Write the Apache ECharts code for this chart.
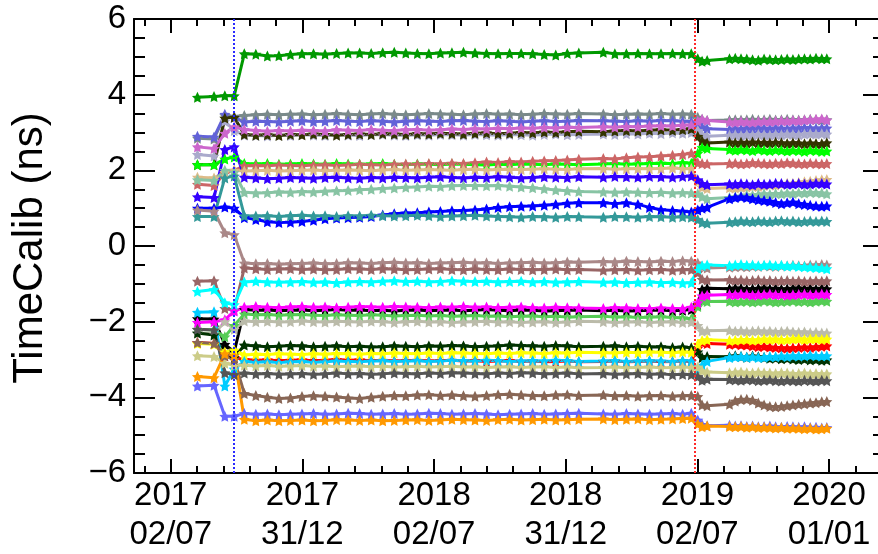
<!DOCTYPE html>
<html><head><meta charset="utf-8">
<script src="https://cdn.jsdelivr.net/npm/echarts@6/dist/echarts.min.js"></script>
<style>html,body{margin:0;padding:0;background:#fff}#c{width:878px;height:554px}</style>
</head><body><div id="c"></div>
<script>
// x values: days since 2017-07-02
const daysA = [37, 60, 75, 88];
const daysB = [102,118,134,150,166,182,198,214,230,246,262,278,294,310,326,342,358,374,390,406,422,438,454,470,486,502,518,534,550,566,600,616,632,648,664,680,696,710,722];
const daysC = [731,737,744,775,783,791,799,807,815,823,831,839,847,855,863,871,879,887,895,903,910];

const majorTickDays = [0, 182.6, 365.25, 547.9, 730.5, 913.1];
const majorTickLabels = ['2017\n02/07','2017\n31/12','2018\n02/07','2018\n31/12','2019\n02/07','2020\n01/01'];
const calibLineDays = [87.5, 727.5];
const calibLineColors = ['#2a2aff', '#ff2a2a'];
const yTitle = 'TimeCalib (ns)';

const s01 = [3.93,3.95,3.97,3.97,
 5.08,5.07,5.02,5.03,5.06, 5.08,5.08,5.07,5.09,5.10, 5.10,5.09,5.11,5.12,5.10, 5.09,5.08,5.10,5.11,5.12, 5.10,5.09,5.08,5.09,5.09, 5.08,5.06,5.05,5.09,5.10, 5.12,5.08,5.08,5.09,5.08, 5.08,5.09,5.08,5.08,
 4.95,4.88,4.90,4.95,4.96, 4.95,4.94,4.92,4.91,4.94, 4.93,4.92,4.93,4.94,4.93, 4.94,4.95,4.94,4.96,4.95, 4.95];
const s02 = [2.85,2.83,3.45,3.42,
 3.45,3.47,3.48,3.47,3.48, 3.49,3.47,3.48,3.50,3.48, 3.47,3.49,3.50,3.48,3.47, 3.48,3.50,3.49,3.48,3.47, 3.49,3.50,3.48,3.49,3.47, 3.48,3.50,3.49,3.48,3.50, 3.49,3.47,3.48,3.49,3.48, 3.50,3.48,3.49,3.48,
 3.40,3.35,3.32,3.33,3.34, 3.33,3.34,3.35,3.33,3.34, 3.35,3.33,3.34,3.35,3.34, 3.33,3.34,3.35,3.34,3.33, 3.34];
const s03 = [2.90,2.88,3.48,3.40,
 3.28,3.30,3.29,3.28,3.30, 3.31,3.29,3.30,3.32,3.30, 3.29,3.31,3.30,3.28,3.30, 3.31,3.30,3.29,3.31,3.32, 3.30,3.29,3.31,3.30,3.28, 3.30,3.31,3.29,3.30,3.32, 3.31,3.30,3.29,3.31,3.30, 3.32,3.31,3.30,3.29,
 3.25,3.15,3.10,3.08,3.10, 3.09,3.11,3.10,3.12,3.11, 3.10,3.12,3.11,3.10,3.12, 3.11,3.13,3.12,3.11,3.12, 3.12];
const s04 = [2.62,2.58,2.98,3.15,
 3.08,3.05,3.03,3.05,3.04, 3.06,3.05,3.04,3.07,3.06, 3.05,3.08,3.06,3.05,3.07, 3.08,3.06,3.07,3.09,3.08, 3.10,3.09,3.11,3.10,3.12, 3.11,3.13,3.12,3.14,3.13, 3.15,3.14,3.16,3.15,3.17, 3.18,3.17,3.19,3.20,
 3.30,3.35,3.32,3.28,3.27, 3.29,3.28,3.27,3.29,3.30, 3.29,3.30,3.31,3.30,3.32, 3.31,3.33,3.34,3.35,3.36, 3.33];
const s05 = [2.15,2.15,3.38,3.40,
 2.95,2.93,2.94,2.92,2.95, 2.94,2.96,2.95,2.93,2.95, 2.96,2.95,2.97,2.96,2.95, 2.97,2.96,2.98,2.97,2.96, 2.98,2.99,2.97,2.98,3.00, 2.99,3.01,3.00,3.02,3.03, 3.02,3.04,3.05,3.04,3.06, 3.07,3.06,3.08,3.10,
 2.90,2.78,2.72,2.75,2.73, 2.74,2.72,2.75,2.73,2.74, 2.72,2.74,2.73,2.71,2.73, 2.72,2.70,2.72,2.71,2.70, 2.73];
const s06 = [2.42,2.38,3.30,3.05,
 2.93,2.92,2.91,2.93,2.92, 2.94,2.93,2.92,2.94,2.93, 2.92,2.94,2.95,2.93,2.92, 2.94,2.93,2.95,2.94,2.93, 2.95,2.94,2.93,2.95,2.94, 2.93,2.95,2.96,2.94,2.95, 2.96,2.95,2.97,2.96,2.98, 2.97,2.99,2.98,3.00,
 3.05,2.95,2.90,2.93,2.94, 2.92,2.94,2.93,2.95,2.94, 2.93,2.95,2.94,2.96,2.95, 2.94,2.96,2.97,2.96,2.97, 2.96];
const s07 = [2.15,2.15,2.30,2.35,
 2.18,2.17,2.18,2.16,2.17, 2.18,2.17,2.16,2.18,2.17, 2.16,2.17,2.18,2.16,2.15, 2.17,2.16,2.15,2.17,2.16, 2.15,2.14,2.16,2.15,2.17, 2.16,2.15,2.17,2.16,2.15, 2.17,2.18,2.16,2.17,2.18, 2.19,2.18,2.20,2.19,
 2.45,2.60,2.58,2.55,2.53, 2.55,2.54,2.52,2.55,2.53, 2.52,2.54,2.53,2.51,2.53, 2.52,2.50,2.53,2.52,2.50, 2.51];
const s08 = [1.63,1.60,1.92,2.00,
 2.12,2.13,2.12,2.14,2.13, 2.12,2.14,2.15,2.13,2.14, 2.16,2.15,2.14,2.16,2.17, 2.16,2.18,2.17,2.19,2.18, 2.20,2.22,2.21,2.23,2.22, 2.24,2.25,2.26,2.27,2.29, 2.31,2.30,2.33,2.35,2.36, 2.38,2.40,2.42,2.45,
 2.20,2.18,2.17,2.18,2.19, 2.17,2.18,2.20,2.19,2.18, 2.17,2.19,2.18,2.20,2.19, 2.18,2.17,2.19,2.18,2.17, 2.18];
const s09 = [1.82,1.80,1.95,2.00,
 1.98,1.99,2.00,1.98,1.99, 2.00,2.01,1.99,2.00,2.01, 2.00,1.99,2.01,2.02,2.00, 2.01,2.02,2.01,2.00,2.02, 2.03,2.01,2.02,2.03,2.02, 2.03,2.04,2.03,2.02,2.04, 2.05,2.03,2.04,2.05,2.04, 2.05,2.06,2.04,2.05,
 1.70,1.55,1.52,1.54,1.53, 1.55,1.56,1.58,1.57,1.60, 1.62,1.61,1.64,1.66,1.65, 1.68,1.70,1.71,1.73,1.75, 1.76];
const s10 = [1.30,1.28,2.55,2.62,
 1.82,1.80,1.78,1.79,1.81, 1.80,1.79,1.81,1.82,1.80, 1.79,1.81,1.80,1.82,1.81, 1.80,1.82,1.83,1.81,1.80, 1.82,1.81,1.83,1.82,1.80, 1.81,1.83,1.82,1.81,1.83, 1.82,1.84,1.83,1.82,1.84, 1.83,1.82,1.84,1.85,
 1.75,1.65,1.62,1.64,1.63, 1.65,1.64,1.62,1.65,1.63, 1.64,1.66,1.65,1.63,1.64, 1.65,1.63,1.64,1.66,1.65, 1.64];
const s11 = [1.75,1.73,2.00,1.95,
 1.42,1.40,1.41,1.43,1.42, 1.44,1.43,1.45,1.46,1.47, 1.49,1.50,1.52,1.53,1.55, 1.56,1.58,1.57,1.59,1.60, 1.60,1.59,1.60,1.58,1.56, 1.54,1.51,1.48,1.46,1.44, 1.43,1.42,1.43,1.42,1.41, 1.42,1.40,1.41,1.40,
 1.38,1.30,1.25,1.28,1.30, 1.32,1.35,1.34,1.36,1.38, 1.37,1.39,1.38,1.40,1.39, 1.41,1.40,1.42,1.41,1.40, 1.38];
const s12 = [1.00,1.00,1.03,1.00,
 0.75,0.70,0.64,0.62,0.63, 0.65,0.68,0.72,0.74,0.75, 0.76,0.78,0.82,0.85,0.87, 0.88,0.90,0.91,0.93,0.94, 0.95,0.98,1.02,1.04,1.05, 1.06,1.08,1.10,1.13,1.14, 1.14,1.12,1.14,1.10,1.02, 0.96,0.94,0.92,0.90,
 0.95,1.00,1.02,1.25,1.28, 1.30,1.28,1.25,1.22,1.20, 1.18,1.15,1.12,1.14,1.16, 1.12,1.10,1.08,1.06,1.05, 1.06];
const s13 = [0.78,0.78,1.80,1.85,
 0.80,0.79,0.80,0.78,0.80, 0.81,0.79,0.80,0.78,0.80, 0.79,0.81,0.80,0.79,0.80, 0.81,0.80,0.78,0.79,0.80, 0.81,0.79,0.78,0.77,0.76, 0.78,0.77,0.76,0.78,0.77, 0.76,0.78,0.77,0.76,0.78, 0.77,0.76,0.77,0.76,
 0.70,0.62,0.60,0.63,0.64, 0.66,0.65,0.64,0.66,0.65, 0.64,0.66,0.67,0.65,0.66, 0.64,0.65,0.66,0.65,0.66, 0.65];
const s14 = [0.95,0.92,0.35,0.30,
 -0.45,-0.47,-0.46,-0.48,-0.47, -0.46,-0.45,-0.47,-0.46,-0.44, -0.45,-0.46,-0.44,-0.43,-0.45, -0.44,-0.46,-0.45,-0.44,-0.43, -0.45,-0.44,-0.46,-0.45,-0.44, -0.43,-0.45,-0.44,-0.42,-0.43, -0.41,-0.42,-0.40,-0.41,-0.42, -0.40,-0.41,-0.39,-0.40,
 -0.45,-0.55,-0.58,-0.56,-0.55, -0.54,-0.55,-0.53,-0.54,-0.52, -0.53,-0.54,-0.52,-0.53,-0.51, -0.52,-0.53,-0.50,-0.51,-0.49, -0.50];
const s15 = [-0.93,-0.92,-1.65,-1.70,
 -0.58,-0.60,-0.62,-0.61,-0.60, -0.62,-0.61,-0.63,-0.62,-0.60, -0.61,-0.62,-0.60,-0.61,-0.63, -0.62,-0.61,-0.60,-0.62,-0.63, -0.61,-0.62,-0.63,-0.61,-0.62, -0.63,-0.62,-0.61,-0.63,-0.62, -0.64,-0.63,-0.62,-0.64,-0.63, -0.62,-0.64,-0.63,-0.62,
 -0.70,-0.88,-0.90,-0.89,-0.91, -0.90,-0.92,-0.91,-0.90,-0.92, -0.91,-0.93,-0.92,-0.91,-0.93, -0.92,-0.94,-0.93,-0.92,-0.93, -0.92];
const s16 = [-1.20,-1.15,-1.50,-1.55,
 -0.95,-0.93,-0.95,-0.96,-0.95, -0.94,-0.96,-0.95,-0.97,-0.95, -0.94,-0.95,-0.93,-0.92,-0.94, -0.93,-0.95,-0.94,-0.92,-0.93, -0.94,-0.93,-0.95,-0.94,-0.93, -0.95,-0.94,-0.96,-0.95,-0.94, -0.96,-0.95,-0.97,-0.96,-0.95, -0.97,-0.96,-0.98,-0.97,
 -0.60,-0.52,-0.50,-0.52,-0.50, -0.49,-0.51,-0.50,-0.52,-0.51, -0.50,-0.52,-0.51,-0.53,-0.52, -0.54,-0.55,-0.56,-0.57,-0.58, -0.60];
const s17 = [-2.02,-2.00,-1.95,-1.72,
 -1.62,-1.60,-1.62,-1.63,-1.61, -1.60,-1.62,-1.61,-1.63,-1.62, -1.60,-1.61,-1.62,-1.60,-1.61, -1.62,-1.63,-1.61,-1.62,-1.60, -1.62,-1.61,-1.63,-1.62,-1.61, -1.63,-1.64,-1.62,-1.63,-1.64, -1.65,-1.63,-1.64,-1.65,-1.66, -1.64,-1.65,-1.66,-1.62,
 -1.50,-1.32,-1.30,-1.28,-1.29, -1.27,-1.28,-1.30,-1.29,-1.28, -1.27,-1.29,-1.28,-1.30,-1.29, -1.28,-1.27,-1.29,-1.28,-1.27, -1.28];
const s18 = [-1.92,-1.93,-2.60,-2.80,
 -1.68,-1.70,-1.69,-1.71,-1.70, -1.69,-1.71,-1.70,-1.68,-1.70, -1.69,-1.71,-1.70,-1.72,-1.70, -1.69,-1.71,-1.70,-1.69,-1.71, -1.70,-1.68,-1.70,-1.71,-1.69, -1.70,-1.72,-1.71,-1.70,-1.69, -1.71,-1.70,-1.72,-1.71,-1.70, -1.69,-1.71,-1.70,-1.68,
 -1.55,-1.15,-1.12,-1.13,-1.11, -1.12,-1.14,-1.13,-1.12,-1.11, -1.13,-1.12,-1.14,-1.13,-1.12, -1.11,-1.13,-1.12,-1.14,-1.12, -1.13];
const s19 = [-2.20,-2.22,-2.40,-2.10,
 -1.80,-1.82,-1.81,-1.83,-1.82, -1.81,-1.83,-1.84,-1.82,-1.83, -1.84,-1.82,-1.83,-1.85,-1.84, -1.83,-1.85,-1.84,-1.86,-1.85, -1.84,-1.86,-1.85,-1.87,-1.86, -1.85,-1.87,-1.86,-1.88,-1.87, -1.86,-1.88,-1.87,-1.89,-1.88, -1.87,-1.89,-1.90,-1.92,
 -1.60,-1.45,-1.47,-1.46,-1.48, -1.47,-1.46,-1.48,-1.47,-1.45, -1.46,-1.48,-1.47,-1.46,-1.45, -1.47,-1.46,-1.48,-1.46,-1.45, -1.46];
const s20 = [-2.30,-2.32,-2.00,-2.20,
 -1.98,-2.00,-1.99,-2.01,-2.00, -1.98,-2.00,-2.01,-1.99,-2.00, -2.01,-1.99,-2.00,-2.02,-2.00, -1.99,-2.01,-2.00,-2.02,-2.01, -2.00,-1.99,-2.01,-2.00,-2.02, -2.01,-2.00,-2.02,-2.01,-1.99, -2.00,-2.02,-2.01,-2.00,-2.02, -2.01,-2.00,-2.02,-2.01,
 -2.10,-2.25,-2.24,-2.23,-2.25, -2.24,-2.26,-2.25,-2.24,-2.26, -2.25,-2.27,-2.26,-2.25,-2.27, -2.28,-2.27,-2.29,-2.28,-2.30, -2.30];
const s21 = [-2.30,-2.35,-2.85,-2.95,
 -2.62,-2.64,-2.66,-2.65,-2.63, -2.64,-2.66,-2.65,-2.64,-2.66, -2.65,-2.67,-2.66,-2.64,-2.65, -2.66,-2.64,-2.65,-2.63,-2.64, -2.66,-2.65,-2.64,-2.62,-2.63, -2.64,-2.65,-2.63,-2.64,-2.66, -2.65,-2.64,-2.66,-2.65,-2.67, -2.66,-2.68,-2.67,-2.69,
 -2.80,-2.95,-2.92,-2.93,-2.90, -2.92,-2.94,-2.91,-2.93,-2.95, -2.97,-2.96,-2.98,-2.97,-2.99, -3.00,-2.99,-3.01,-3.00,-3.02, -3.01];
const s22 = [-2.58,-2.60,-2.80,-2.75,
 -2.88,-2.86,-2.87,-2.85,-2.86, -2.87,-2.85,-2.86,-2.84,-2.85, -2.86,-2.84,-2.85,-2.83,-2.84, -2.85,-2.83,-2.84,-2.82,-2.83, -2.84,-2.85,-2.83,-2.84,-2.82, -2.83,-2.84,-2.82,-2.83,-2.81, -2.82,-2.83,-2.81,-2.82,-2.80, -2.81,-2.82,-2.80,-2.81,
 -2.60,-2.50,-2.48,-2.50,-2.49, -2.48,-2.47,-2.49,-2.48,-2.46, -2.47,-2.46,-2.48,-2.47,-2.46, -2.45,-2.47,-2.46,-2.45,-2.47, -2.46];
const s23 = [-2.55,-2.58,-2.90,-2.95,
 -3.00,-3.02,-3.01,-3.03,-3.02, -3.01,-3.03,-3.02,-3.00,-3.02, -3.01,-3.03,-3.02,-3.04,-3.03, -3.02,-3.04,-3.03,-3.02,-3.04, -3.03,-3.05,-3.04,-3.03,-3.05, -3.04,-3.06,-3.05,-3.04,-3.06, -3.05,-3.04,-3.06,-3.05,-3.04, -3.06,-3.05,-3.04,-3.05,
 -2.70,-2.55,-2.58,-2.60,-2.59, -2.61,-2.62,-2.64,-2.66,-2.65, -2.67,-2.68,-2.69,-2.70,-2.69, -2.68,-2.67,-2.68,-2.66,-2.65, -2.64];
const s24 = [-1.75,-1.74,-3.70,-3.25,
 -3.05,-3.07,-3.06,-3.08,-3.06, -3.05,-3.07,-3.06,-3.04,-3.05, -3.06,-3.04,-3.03,-3.05,-3.04, -3.03,-3.05,-3.04,-3.02,-3.03, -3.04,-3.02,-3.03,-3.05,-3.04, -3.03,-3.04,-3.02,-3.03,-3.05, -3.04,-3.03,-3.05,-3.04,-3.03, -3.04,-3.05,-3.03,-3.04,
 -3.25,-3.15,-3.05,-2.95,-2.93, -2.92,-2.94,-2.93,-2.95,-2.94, -2.92,-2.93,-2.91,-2.92,-2.90, -2.91,-2.90,-2.89,-2.90,-2.91, -2.90];
const s25 = [-2.90,-2.92,-3.10,-3.15,
 -3.15,-3.17,-3.16,-3.18,-3.17, -3.16,-3.18,-3.17,-3.19,-3.18, -3.17,-3.19,-3.18,-3.20,-3.19, -3.18,-3.20,-3.19,-3.18,-3.20, -3.19,-3.21,-3.20,-3.19,-3.21, -3.20,-3.19,-3.21,-3.20,-3.22, -3.21,-3.20,-3.22,-3.21,-3.20, -3.22,-3.21,-3.20,-3.21,
 -3.20,-3.30,-3.33,-3.35,-3.34, -3.33,-3.35,-3.36,-3.34,-3.35, -3.36,-3.37,-3.35,-3.36,-3.38, -3.37,-3.36,-3.38,-3.37,-3.39, -3.38];
const s26 = [-2.20,-2.22,-3.35,-3.40,
 -3.36,-3.38,-3.37,-3.39,-3.38, -3.37,-3.39,-3.38,-3.36,-3.38, -3.37,-3.39,-3.38,-3.36,-3.37, -3.38,-3.36,-3.37,-3.35,-3.36, -3.37,-3.38,-3.36,-3.37,-3.35, -3.36,-3.38,-3.37,-3.36,-3.38, -3.37,-3.39,-3.38,-3.37,-3.39, -3.38,-3.40,-3.39,-3.40,
 -3.45,-3.55,-3.52,-3.53,-3.54, -3.55,-3.53,-3.54,-3.56,-3.55, -3.54,-3.56,-3.57,-3.55,-3.56, -3.57,-3.55,-3.56,-3.57,-3.55, -3.56];
const s27 = [-2.55,-2.58,-2.90,-3.00,
 -3.90,-3.95,-4.00,-4.03,-4.02, -3.98,-3.96,-3.97,-3.99,-4.02, -4.03,-4.00,-3.97,-3.95,-3.96, -3.94,-3.93,-3.95,-3.94,-3.96, -3.97,-3.95,-3.93,-3.92,-3.94, -3.95,-3.96,-3.94,-3.93,-3.95, -3.94,-3.96,-3.95,-3.97,-3.96, -3.95,-3.97,-3.96,-3.95,
 -3.98,-4.20,-4.22,-4.18,-4.10, -4.06,-4.05,-4.08,-4.15,-4.20, -4.24,-4.25,-4.24,-4.22,-4.20, -4.18,-4.17,-4.15,-4.14,-4.12, -4.11];
const s28 = [-3.70,-3.68,-4.50,-4.50,
 -4.43,-4.45,-4.44,-4.46,-4.45, -4.44,-4.43,-4.45,-4.44,-4.42, -4.43,-4.45,-4.44,-4.43,-4.45, -4.44,-4.42,-4.43,-4.45,-4.44, -4.43,-4.44,-4.46,-4.45,-4.44, -4.43,-4.45,-4.44,-4.43,-4.42, -4.44,-4.45,-4.43,-4.44,-4.45, -4.44,-4.43,-4.45,-4.42,
 -4.60,-4.72,-4.75,-4.74,-4.76, -4.75,-4.77,-4.76,-4.78,-4.77, -4.76,-4.78,-4.79,-4.77,-4.78, -4.79,-4.78,-4.80,-4.79,-4.81, -4.80];
const s29 = [-3.45,-3.48,-2.85,-2.90,
 -4.58,-4.62,-4.60,-4.62,-4.61, -4.60,-4.62,-4.61,-4.59,-4.60, -4.61,-4.60,-4.62,-4.61,-4.60, -4.59,-4.61,-4.60,-4.58,-4.59, -4.60,-4.61,-4.59,-4.58,-4.60, -4.59,-4.58,-4.60,-4.59,-4.58, -4.57,-4.59,-4.58,-4.57,-4.59, -4.58,-4.57,-4.56,-4.55,
 -4.70,-4.78,-4.76,-4.77,-4.78, -4.77,-4.79,-4.78,-4.80,-4.79, -4.80,-4.81,-4.80,-4.82,-4.81, -4.82,-4.83,-4.82,-4.84,-4.83, -4.82];

// drawing order: first drawn = bottom
const channelValues = [s18,s23,s01,s02,s03,s06,s05,s04,s07,s08,s09,s10,s11,s12,s13,s14,s15,s16,s19,s17,s20,s21,s22,s24,s25,s26,s27,s28,s29];
const channelColors = ['#000000','#ff0000','#009900','#7a8a8a','#6262d8','#aaaacc','#333300','#cc66cc','#00ff00','#cc6666','#ddbb88','#3300ff','#88c4a4','#0000ff','#339999','#aa8888','#996666','#00ffff','#55cc55','#ff00ff','#bbbbaa','#003300','#ffff00','#00ccff','#cccc88','#555555','#886655','#6666ff','#ff9900'];

const days = daysA.concat(daysB, daysC);
// fat five-pointed star
const starPath = 'path://M0,-10L3.4,-3.4L10,-3.1L5.1,1.6L6.2,8.2L0,5.2L-6.2,8.2L-5.1,1.6L-10,-3.1L-3.4,-3.4Z';

// minor tick positions: 5 subdivisions of each major interval
const step = (majorTickDays[5] - majorTickDays[0]) / 25;
const minorTickDays = [];
for (let i = -1; i <= 26; i++) minorTickDays.push(majorTickDays[0] + i * step);

const X_MIN = -51, X_MAX = 981;
const black = '#000';
const font = 'Liberation Sans, Arial, Helvetica, sans-serif';

function xAxisDef(pos, ticks, len, withLine, withLabel) {
  return {
    type: 'value', min: X_MIN, max: X_MAX, position: pos, offset: 0,
    axisLine: {show: withLine, onZero: false, lineStyle: {color: black, width: 2}},
    splitLine: {show: false},
    axisTick: {show: true, inside: true, length: len, customValues: ticks, lineStyle: {color: black, width: 2}},
    axisLabel: withLabel ? {
      show: true, customValues: majorTickDays, fontSize: 33, fontFamily: font, color: black,
      lineHeight: 39, margin: 3,
      formatter: function (v) {
        let best = 0;
        for (let i = 0; i < majorTickDays.length; i++) if (Math.abs(majorTickDays[i] - v) < Math.abs(majorTickDays[best] - v)) best = i;
        return majorTickLabels[best];
      }
    } : {show: false}
  };
}
function yAxisDef(pos, withLabel, offset) {
  return {
    type: 'value', min: -6, max: 6, interval: 2, position: pos, offset: offset,
    axisLine: {show: true, onZero: false, lineStyle: {color: black, width: 2}},
    splitLine: {show: false}, minorSplitLine: {show: false},
    axisTick: {show: true, inside: true, length: 21, lineStyle: {color: black, width: 2}},
    minorTick: {show: true, splitNumber: 4, length: 11, lineStyle: {color: black, width: 2}},
    axisLabel: withLabel ? {show: true, fontSize: 33, fontFamily: font, color: black, margin: 8,
      formatter: v => String(v).replace('-', '\u2212')} : {show: false}
  };
}

const series = channelValues.map((vals, k) => ({
  type: 'line', xAxisIndex: 0, yAxisIndex: 0,
  data: days.map((d, i) => [d, vals[i]]),
  symbol: starPath, symbolSize: 11,
  lineStyle: {color: channelColors[k], width: 3},
  itemStyle: {color: channelColors[k]},
  animation: false, silent: true
}));
series.push({
  type: 'line', xAxisIndex: 0, yAxisIndex: 0, data: [], z: 10, animation: false,
  markLine: {
    silent: true, symbol: ['none', 'none'], label: {show: false}, animation: false,
    data: calibLineDays.map((d, i) => ({xAxis: d, lineStyle: {color: calibLineColors[i], type: [2, 2], width: 2}}))
  }
});

const chart = echarts.init(document.getElementById('c'), null, {renderer: 'canvas'});
chart.setOption({
  animation: false,
  backgroundColor: '#fff',
  grid: {left: 134, top: 19, right: 0, height: 456, containLabel: false},
  xAxis: [
    xAxisDef('bottom', majorTickDays, 14, true, true),
    xAxisDef('bottom', minorTickDays, 7, false, false),
    xAxisDef('top', majorTickDays, 14, true, false),
    xAxisDef('top', minorTickDays, 7, false, false)
  ],
  yAxis: [yAxisDef('left', true, 0), yAxisDef('right', false, 6)],
  graphic: [{
    type: 'text', x: 30, y: 248, rotation: Math.PI / 2,
    style: {text: yTitle, fontSize: 42, fontFamily: font, fill: black, align: 'center', verticalAlign: 'middle'}
  }],
  series: series
});
</script></body></html>
